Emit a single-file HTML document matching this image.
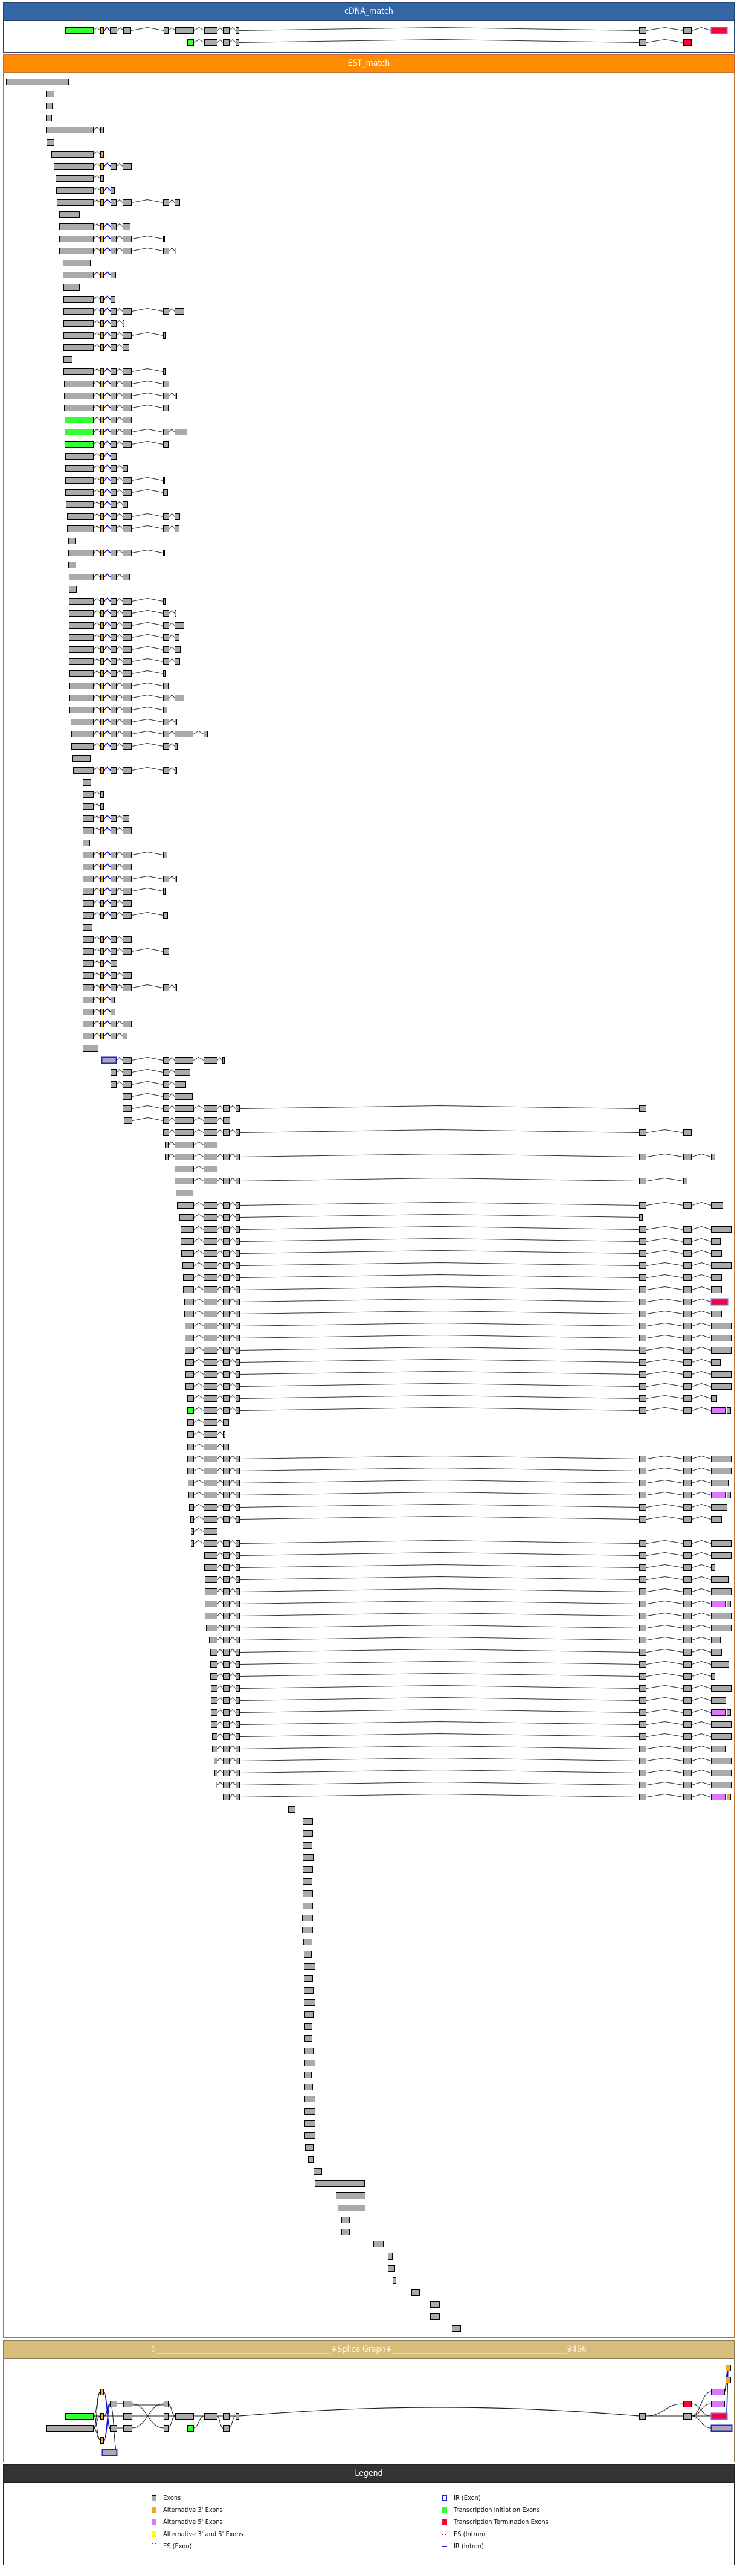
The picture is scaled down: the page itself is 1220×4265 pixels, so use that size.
<!DOCTYPE html>
<html><head><meta charset="utf-8">
<style>
html,body{margin:0;padding:0;background:#fff;}
body{width:1220px;height:4265px;position:relative;overflow:hidden;font-family:"DejaVu Sans Condensed","DejaVu Sans","Liberation Sans",sans-serif;}
.hd{position:absolute;left:5px;width:1209px;height:28px;line-height:28px;text-align:center;color:#fff;font-size:14px;font-stretch:condensed;border:1px solid;}
.pn{position:absolute;left:5px;width:1209px;background:#fff;border:1px solid;}
.lg{position:absolute;font-size:11px;font-stretch:condensed;color:#111;line-height:12px;}
.ic{position:absolute;width:8px;height:10px;box-sizing:border-box;}
svg{position:absolute;left:0;top:0;}
</style></head><body>
<div class="hd" style="top:4px;background:#3465a4;border-color:#24466e;">cDNA_match</div>
<div class="pn" style="top:34px;height:51px;border-color:#24466e;"></div>
<div class="hd" style="top:90px;background:#ff8c00;border-color:#c8643a;">EST_match</div>
<div class="pn" style="top:120px;height:3749px;border-color:#c0703a;"></div>
<div class="hd" style="top:3875px;background:#d8bc7c;border-color:#8a7a58;color:#fffbe8;">0______________________________________________+Splice Graph+______________________________________________9456</div>
<div class="pn" style="top:3905px;height:170px;border-color:#8a7a58;"></div>
<div class="hd" style="top:4080px;background:#333;border-color:#222;">Legend</div>
<div class="pn" style="top:4110px;height:135px;border-color:#222;"></div>

<div class="ic" style="left:251px;top:4131px;background:#aaa;border:1px solid #000;"></div><div class="lg" style="left:270px;top:4130px;">Exons</div>
<div class="ic" style="left:251px;top:4151px;background:#f5a623;"></div><div class="lg" style="left:270px;top:4150px;">Alternative 3' Exons</div>
<div class="ic" style="left:251px;top:4171px;background:#dd77ff;"></div><div class="lg" style="left:270px;top:4170px;">Alternative 5' Exons</div>
<div class="ic" style="left:251px;top:4191px;background:#ffff00;"></div><div class="lg" style="left:270px;top:4190px;">Alternative 3' and 5' Exons</div>
<div class="ic" style="left:251px;top:4211px;border:1px dashed #e00;"></div><div class="lg" style="left:270px;top:4210px;">ES (Exon)</div>
<div class="ic" style="left:732px;top:4131px;border:2px solid #2222dd;"></div><div class="lg" style="left:751px;top:4130px;">IR (Exon)</div>
<div class="ic" style="left:732px;top:4151px;background:#33ff33;"></div><div class="lg" style="left:751px;top:4150px;">Transcription Initiation Exons</div>
<div class="ic" style="left:732px;top:4171px;background:#ff0033;"></div><div class="lg" style="left:751px;top:4170px;">Transcription Termination Exons</div>
<div class="ic" style="left:732px;top:4195px;height:2px;border-left:2px solid #e00;border-right:2px solid #e00;width:7px;"></div><div class="lg" style="left:751px;top:4190px;">ES (Intron)</div>
<div class="ic" style="left:732px;top:4215px;height:2px;background:#2222cc;"></div><div class="lg" style="left:751px;top:4210px;">IR (Intron)</div>

<svg id="sv" width="1220" height="4265" viewBox="0 0 1220 4265"><g id="g"></g></svg>
<script>
var O=[166,171,'o'],G1=[183,192],G2=[203,217],G3=[270,279],D=[289,320],E=[337,359],Fx=[369,379],Gx=[390,396],H=[1058,1069],I=[1131,1144],J=[1177,1210];
var PUR=[[1177,1200,'p'],[1200,1202,'bl'],[1203,1209]];
function F(s,t,c){return [[s,154,c||'g'],O,G1,G2].concat(t||[]);}
function jt(j){if(j==='full')return [J];if(j==='p')return PUR;if(j==='red')return [[1177,1204,'rb']];if(j==='po')return [[1177,1200,'p'],[1200,1202,'bl'],[1203,1209,'o']];return [[1177,j]];}
function R(ds,j,c){return [[ds,320,c||'g'],E,Fx,Gx,H,I].concat(jt(j));}
function R2(es,j){return [[es,359],Fx,Gx,H,I].concat(jt(j));}
var rows=[
[50,[[108,154,'G'],O,[182,193],[204,216],[271,278],[290,320],[338,359],[369,379],[390,395],[1058,1069],[1131,1144],[1177,1203,'rb']]],
[70,[[310,320,'G'],[338,359],[369,379],[390,395],[1058,1069],[1131,1144,'r']]],
[135,[[10,113]]],[155,[[76,89]]],[175,[[76,86]]],[195,[[76,85]]],[215,[[76,154],[166,171]]],[235,[[77,89]]],
[255,[[85,154],O]],[275,F(89)],[295,[[92,154],[166,171]]],[315,[[93,154],O,[183,189]]],
[335,F(94,[G3,[289,297]])],[355,[[98,131]]],[375,[[98,154],O,G1,[203,215]]],[395,F(98,[[270,272]])],
[415,F(98,[G3,[289,291]])],[435,[[104,149]]],[455,[[104,154],O,[183,191]]],[475,[[105,131]]],
[495,[[105,154],O,[183,190]]],[515,F(105,[G3,[289,304]])],[535,[[105,154],O,G1,[203,205]]],
[555,F(105,[[270,273]])],[575,[[105,154],O,G1,[203,213]]],[595,[[105,119]]],[615,F(105,[[270,273]])],
[635,F(106,[G3])],[655,F(106,[G3,[289,292]])],[675,F(106,[[270,278]])],[695,F(107,[],'G')],
[715,F(107,[G3,[289,309]],'G')],[735,F(107,[[270,278]],'G')],[755,[[108,154],O,[183,192]]],
[775,[[108,154],O,G1,[203,211]]],[795,F(108,[[270,272]])],[815,F(108,[[270,277]])],
[835,[[109,154],O,G1,[203,211]]],[855,F(111,[G3,[289,297]])],[875,F(111,[G3,[289,296]])],
[895,[[113,124]]],[915,F(113,[[270,272]])],[935,[[113,125]]],[955,[[114,154],O,G1,[203,214]]],
[975,[[114,126]]],[995,F(114,[[270,273]])],[1015,F(114,[G3,[289,291]])],[1035,F(114,[G3,[289,304]])],
[1055,F(114,[G3,[289,296]])],[1075,F(114,[G3,[289,298]])],[1095,F(114,[G3,[289,297]])],
[1115,F(115,[[270,273]])],[1135,F(115,[[270,278]])],[1155,F(115,[G3,[289,304]])],[1175,F(115,[[270,276]])],
[1195,F(117,[G3,[289,292]])],[1215,F(118,[G3,[289,319],[337,343]])],[1235,F(118,[G3,[289,293]])],
[1255,[[120,149]]],[1275,F(121,[G3,[289,292]])],[1295,[[137,150]]],[1315,[[137,154],[166,171]]],
[1335,[[137,154],[166,171]]],[1355,[[137,154],O,G1,[203,213]]],[1375,F(137)],[1395,[[137,148]]],
[1415,F(137,[[270,276]])],[1435,F(137)],[1455,F(137,[G3,[289,292]])],[1475,F(137,[[270,273]])],
[1495,F(137)],[1515,F(137,[[270,277]])],[1535,[[137,152]]],[1555,F(137)],[1575,F(137,[G3])],
[1595,[[137,154],O,[183,193]]],[1615,F(137)],[1635,F(137,[G3,[289,292]])],[1655,[[137,154],O,[183,189]]],
[1675,[[137,154],O,[183,190]]],[1695,F(137)],[1715,[[137,154],O,G1,[203,210]]],[1735,[[137,162]]],
[1755,[[168,192,'ir'],G2,G3,[289,319],[337,359],[368,371]]],
[1775,[G1,G2,G3,[289,314]]],[1795,[G1,G2,G3,[289,307]]],[1815,[G2,G3,[289,318]]],
[1835,[G2,G3,D,E,Fx,Gx,H]],[1855,[[205,218],G3,D,E,[369,380]]],[1875,[G3,D,E,Fx,Gx,H,I]],
[1895,[[273,278],D,E]],[1915,[[273,278],D,E,Fx,Gx,H,I,[1177,1183]]],[1935,[D,E]],
[1955,[D,E,Fx,Gx,H,[1131,1137]]],[1975,[[291,319]]],[1995,R(293,1196)],
[2015,[[297,320],E,Fx,Gx,[1058,1063]]],
[2035,R(299,'full')],[2055,R(299,1192)],[2075,R(300,1194)],[2095,R(302,'full')],[2115,R(303,1194)],
[2135,R(303,1194)],[2155,R(305,'red')],[2175,R(305,1194)],[2195,R(306,'full')],[2215,R(306,'full')],
[2235,R(306,'full')],[2255,R(307,1192)],[2275,R(307,'full')],[2295,R(307,'full')],[2315,R(310,1186)],
[2335,R(310,'p','G')],[2355,[[310,320],E,[369,378]]],[2375,[[310,320],E,[369,372]]],[2395,[[310,320],E,[369,378]]],
[2415,R(310,'full')],[2435,R(310,'full')],[2455,R(311,1205)],[2475,R(312,'p')],[2495,R(313,1203)],
[2515,R(315,1194)],[2535,[[316,320],E]],[2555,R(316,'full')],
[2575,R2(338,'full')],[2595,R2(338,1183)],[2615,R2(339,1205)],[2635,R2(339,'full')],[2655,R2(339,'p')],
[2675,R2(339,'full')],[2695,R2(341,'full')],[2715,R2(346,1192)],[2735,R2(348,1194)],[2755,R2(348,1206)],
[2775,R2(348,1183)],[2795,R2(349,'full')],[2815,R2(349,1201)],[2835,R2(349,'p')],[2855,R2(349,'full')],
[2875,R2(351,'full')],[2895,R2(351,1200)],[2915,R2(354,'full')],[2935,R2(355,'full')],[2955,R2(357,'full')],
[2975,[Fx,Gx,H,I].concat(jt('po'))],
[2995,[[477,488]]],[3015,[[501,517]]],[3035,[[501,517]]],[3055,[[501,516]]],[3075,[[501,518]]],
[3095,[[501,517]]],[3115,[[501,516]]],[3135,[[501,517]]],[3155,[[501,517]]],
[3175,[[500,517]]],[3195,[[500,517]]],[3215,[[502,516]]],[3235,[[503,515]]],[3255,[[503,521]]],
[3275,[[503,517]]],[3295,[[503,518]]],[3315,[[503,521]]],[3335,[[504,518]]],[3355,[[504,516]]],
[3375,[[504,516]]],[3395,[[504,518]]],[3415,[[504,521]]],[3435,[[504,515]]],[3455,[[504,517]]],
[3475,[[504,521]]],[3495,[[504,521]]],[3515,[[504,521]]],[3535,[[504,521]]],[3555,[[505,518]]],
[3575,[[510,518]]],[3595,[[519,532]]],[3615,[[521,603]]],[3635,[[556,604]]],[3655,[[559,604]]],
[3675,[[565,578]]],[3695,[[565,578]]],[3715,[[618,634]]],[3735,[[642,649]]],[3755,[[642,653]]],
[3775,[[650,655]]],[3795,[[681,694]]],[3815,[[712,727]]],[3835,[[712,727]]],[3855,[[748,762]]]
];
var fills={g:'#aaaaaa',o:'#f5a623',G:'#33ff33',r:'#ff0033',p:'#dd77ff',ir:'#aaaaaa',rb:'#ff0033'};
var s='';
function ex(a,b,y,c){c=c||'g';
 if(c==='bl'){s+='<rect x="'+a+'" y="'+(y-5)+'" width="'+(b-a)+'" height="10" fill="#1111cc"/>';return;}
 var st='#000',sw=1;if(c==='ir'||c==='rb'){st=c==='ir'?'#2222dd':'#6666ee';sw=2;}
 s+='<rect x="'+(a+.5)+'" y="'+(y-4.5)+'" width="'+Math.max(b-a,2)+'" height="10" fill="'+fills[c]+'" stroke="'+st+'" stroke-width="'+sw+'"/>';}
rows.forEach(function(r){var y=r[0],sg=r[1];
 for(var i=1;i<sg.length;i++){var a=sg[i-1][1]+1,b=sg[i][0];if(b-a<3)continue;
  var blue=(sg[i-1][1]===171&&b>=182&&b<=184);
  s+='<polyline points="'+a+','+(y+.5)+' '+((a+b)/2)+','+(y-4.5)+' '+b+','+(y+.5)+'" fill="none" stroke="'+(blue?'#1111cc':'#333')+'" stroke-width="'+(blue?1.6:1)+'"/>';}
 sg.forEach(function(e){ex(e[0],e[1],y,e[2]);});});
// splice graph
function cv(x1,y1,x2,y2,col){var dx=(x2-x1)/2;s+='<path d="M'+x1+' '+y1+' C'+(x1+dx)+' '+y1+' '+(x2-dx)+' '+y2+' '+x2+' '+y2+'" fill="none" stroke="'+(col||'#222')+'" stroke-width="'+(col?1.6:1)+'"/>';}
cv(155,4000,166,3960);cv(155,4000,166,4000);cv(155,4000,166,4040);cv(155,4020,166,3960);cv(155,4020,166,4040);cv(155,4020,166,4000);
cv(172,3962,183,4022,'#1111cc');cv(172,4040,183,3980,'#1111cc');cv(172,4000,183,3980,'#1111cc');
cv(194,4060,183,3982);cv(172,4000,204,4000);
cv(193,3980,204,3980);cv(193,4020,204,4020);
cv(218,3980,271,4020);cv(218,4020,271,3980);cv(218,4000,271,4000);cv(218,3982,271,3982);
cv(278,3980,290,4000);cv(278,4000,290,4000);cv(278,4020,290,4000);
cv(320,4000,338,4000);cv(320,4020,338,4000);
cv(359,4000,369,4000);cv(359,4000,369,4020);cv(379,4000,390,4000);cv(379,4020,390,4000);
s+='<path d="M396 4000 Q727 3972 1058 4000" fill="none" stroke="#222" stroke-width="1.2"/>';
cv(1069,4000,1131,3980);cv(1069,4000,1131,4000);cv(1144,3980,1177,4000);
cv(1144,4000,1177,3960);cv(1144,4000,1177,3980);cv(1144,4000,1177,4000);cv(1144,4000,1177,4020);
s+='<path d="M1205 3920 L1203 3995" stroke="#1111cc" stroke-width="1.6" fill="none"/>';
cv(1199,3960,1205,3925,'#1111cc');
ex(108,154,4000,'G');ex(76,154,4020);ex(166,171,3960,'o');ex(166,171,4000,'o');ex(166,171,4040,'o');
ex(182,193,3980);ex(182,193,4020);ex(204,218,3980);ex(204,218,4000);ex(204,218,4020);ex(169,193,4060,'ir');
ex(271,278,3980);ex(271,278,4000);ex(271,278,4020);ex(290,320,4000);ex(310,320,4020,'G');
ex(338,359,4000);ex(369,379,4000);ex(369,379,4020);ex(390,395,4000);ex(1058,1068,4000);
ex(1131,1144,3980,'r');ex(1131,1144,4000);ex(1201,1209,3920,'o');ex(1201,1209,3940,'o');
ex(1177,1199,3960,'p');ex(1177,1199,3980,'p');ex(1177,1203,4000,'rb');ex(1177,1211,4020,'ir');
document.getElementById('g').innerHTML=s;
</script>
</body></html>
